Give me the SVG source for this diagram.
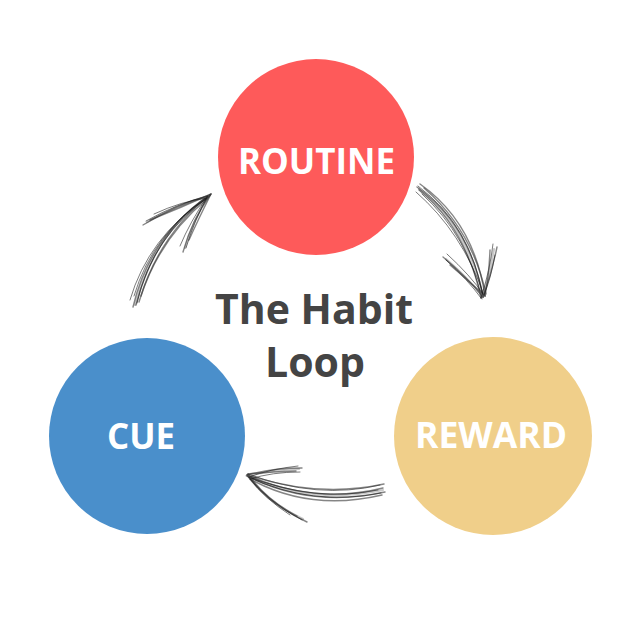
<svg xmlns="http://www.w3.org/2000/svg" width="640" height="640" viewBox="0 0 640 640">
<style>
.lbl{font-family:"Open Sans","DejaVu Sans",sans-serif;font-weight:700;fill:#fff;text-anchor:middle;font-size:35px}
.ttl{font-family:"Open Sans","DejaVu Sans",sans-serif;font-weight:700;fill:#444;text-anchor:middle;font-size:41px}
.sk{fill:none;stroke:#333;stroke-width:1.4;stroke-opacity:0.6;stroke-linecap:round}
.sk2{fill:none;stroke:#111;stroke-width:1;stroke-opacity:0.55;stroke-linecap:round}
.sk3{fill:none;stroke:#888;stroke-width:2.2;stroke-opacity:0.45;stroke-linecap:round}
</style>
<rect width="640" height="640" fill="#fff"/>
<g id="routine"><circle cx="316" cy="157" r="98" fill="#FE5A5A"/><text class="lbl" x="316.5" y="174" textLength="157" lengthAdjust="spacingAndGlyphs">ROUTINE</text></g>
<g id="cue"><circle cx="147" cy="436" r="98" fill="#4A8FCB"/><text class="lbl" x="141" y="449" textLength="68" lengthAdjust="spacingAndGlyphs">CUE</text></g>
<g id="reward"><circle cx="493" cy="436" r="99" fill="#F0CF8A"/><text class="lbl" x="491" y="448" textLength="152" lengthAdjust="spacingAndGlyphs">REWARD</text></g>
<g id="title"><text class="ttl" x="314" y="324" textLength="198" lengthAdjust="spacingAndGlyphs">The Habit</text><text class="ttl" x="315" y="377" textLength="100" lengthAdjust="spacingAndGlyphs">Loop</text></g>
<g id="connectors">
<g id="arrow-cue-routine">
<path class="sk3" d="M135 305 Q153 234 209 196"/>
<path class="sk" d="M133 307 Q150 235 210 195"/>
<path class="sk" d="M136 305 Q155 232 208 196"/>
<path class="sk2" d="M130 300 Q148 238 206 198"/>
<path class="sk" d="M139 302 Q158 236 211 194"/>
<path class="sk2" d="M134 296 Q153 232 209 197"/>
<path class="sk" d="M141 296 Q160 238 207 199"/>
<path class="sk2" d="M137 303 Q152 236 210 196"/>
<path class="sk3" d="M147 222 Q178 205 209 196"/>
<path class="sk" d="M143 225 Q175 205 210 195"/>
<path class="sk2" d="M146 221 Q178 203 208 196"/>
<path class="sk" d="M150 220 Q180 208 211 194"/>
<path class="sk2" d="M154 214 Q182 201 207 198"/>
<path class="sk3" d="M185 248 Q193 220 209 196"/>
<path class="sk" d="M183 252 Q192 220 210 195"/>
<path class="sk2" d="M186 248 Q195 218 208 196"/>
<path class="sk" d="M189 240 Q197 222 211 194"/>
<path class="sk2" d="M180 246 Q190 222 207 197"/>
</g>
<g id="arrow-routine-reward">
<path class="sk3" d="M419 189 Q468 228 483 296"/>
<path class="sk" d="M417 187 Q470 225 483 297"/>
<path class="sk" d="M419 190 Q466 228 481 298"/>
<path class="sk2" d="M416 192 Q462 232 484 295"/>
<path class="sk" d="M420 184 Q474 222 485 296"/>
<path class="sk2" d="M422 194 Q468 236 482 299"/>
<path class="sk" d="M424 188 Q472 230 486 294"/>
<path class="sk2" d="M418 186 Q471 226 483 297"/>
<path class="sk3" d="M446 259 Q468 278 483 297"/>
<path class="sk" d="M443 257 Q466 276 483 297"/>
<path class="sk2" d="M446 260 Q468 280 481 298"/>
<path class="sk" d="M450 265 Q470 282 485 296"/>
<path class="sk2" d="M447 254 Q470 275 484 295"/>
<path class="sk3" d="M494 249 Q490 273 483 297"/>
<path class="sk" d="M497 247 Q492 272 483 297"/>
<path class="sk2" d="M493 244 Q490 270 481 298"/>
<path class="sk" d="M490 250 Q489 275 485 296"/>
<path class="sk2" d="M495 255 Q491 278 484 295"/>
</g>
<g id="arrow-reward-cue">
<path class="sk3" d="M383 490 Q314 505 248 476"/>
<path class="sk" d="M383 488 Q315 505 247 475"/>
<path class="sk" d="M385 492 Q312 508 249 477"/>
<path class="sk2" d="M380 485 Q318 500 248 474"/>
<path class="sk" d="M382 495 Q310 512 250 479"/>
<path class="sk2" d="M378 490 Q316 503 246 476"/>
<path class="sk" d="M384 484 Q320 498 251 476"/>
<path class="sk2" d="M381 493 Q313 507 248 477"/>
<path class="sk3" d="M299 469 Q271 470 248 476"/>
<path class="sk" d="M302 468 Q272 468 247 475"/>
<path class="sk2" d="M298 466 Q270 469 249 477"/>
<path class="sk" d="M296 471 Q268 472 248 474"/>
<path class="sk2" d="M300 472 Q272 472 250 479"/>
<path class="sk3" d="M303 519 Q268 503 248 476"/>
<path class="sk" d="M307 522 Q270 505 247 475"/>
<path class="sk2" d="M302 520 Q268 502 249 477"/>
<path class="sk" d="M297 516 Q266 500 248 474"/>
<path class="sk2" d="M290 515 Q264 498 250 479"/>
</g>
</g>
</svg>
